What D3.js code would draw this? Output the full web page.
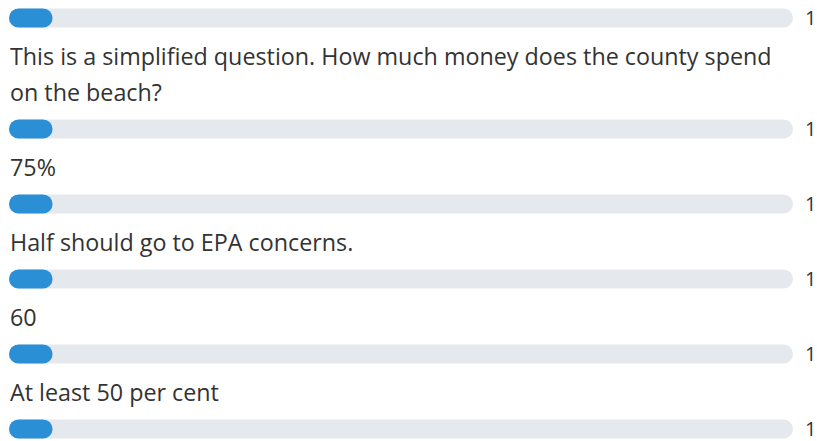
<!DOCTYPE html>
<html>
<head>
<meta charset="utf-8">
<script src="https://cdn.jsdelivr.net/npm/d3@7"></script>
<style>
  body { margin: 0; background: #fff; }
  text { font-family: "Open Sans", "Noto Sans", sans-serif; fill: #333; }
</style>
</head>
<body>
<svg></svg>
<script>
// Poll options (first option's label is above the visible area)
const options = [
    "",
    "This is a simplified question. How much money does the county spend on the beach?",
    "75%",
    "Half should go to EPA concerns.",
    "60",
    "At least 50 per cent"
];
const votes = [1, 1, 1, 1, 1, 1];
const totalVotes = 18;

const width = 817, height = 441;
const fontSize = 23.3,
    countSize = 20,
    lineHeight = 36,
    barH = 19,
    labelGap = 47,   // bar centre -> first label baseline
    rowGap = 28;     // last label baseline -> next bar centre

const svg = d3.select("svg")
    .attr("width", width)
    .attr("height", height);

const x = d3.scaleLinear()
    .domain([0, totalVotes])
    .range([9, 793]);

// word wrap helper
const measure = svg.append("text").attr("font-size", fontSize).attr("visibility", "hidden");
function wrap(str, maxW) {
    if (!str) return [];
    const words = str.split(" ");
    const lines = [];
    let line = "";
    words.forEach(w => {
        const t = line ? line + " " + w : w;
        measure.text(t);
        if (measure.node().getComputedTextLength() > maxW && line) {
            lines.push(line);
            line = w;
        } else line = t;
    });
    lines.push(line);
    return lines;
}

// lay out the rows top to bottom
let y = 18;
const rows = options.map((label, i) => {
    const lines = wrap(label, 785);
    let barY = y;
    if (i > 0) {
        const first = y + labelGap;
        barY = first + (lines.length - 1) * lineHeight + rowGap;
    }
    const row = { label, lines, votes: votes[i], barY, labelY: barY - rowGap - (lines.length - 1) * lineHeight };
    y = barY;
    return row;
});
measure.remove();

const g = svg.selectAll("g.row")
    .data(rows)
    .join("g")
    .attr("class", "row");

g.each(function(d) {
    d3.select(this).selectAll("text.label")
        .data(d.lines)
        .join("text")
        .attr("class", "label")
        .attr("x", 10)
        .attr("y", (l, j) => d.labelY + j * lineHeight)
        .attr("font-size", fontSize)
        .text(l => l);
});

g.append("rect")
    .attr("x", x(0))
    .attr("y", d => d.barY - barH / 2)
    .attr("width", x(totalVotes) - x(0))
    .attr("height", barH)
    .attr("rx", barH / 2)
    .attr("fill", "#e5e8ec");

g.append("rect")
    .attr("x", x(0))
    .attr("y", d => d.barY - barH / 2)
    .attr("width", d => x(d.votes) - x(0))
    .attr("height", barH)
    .attr("rx", barH / 2)
    .attr("fill", "#2b8fd6");

g.append("text")
    .attr("x", 805)
    .attr("y", d => d.barY + 7)
    .attr("font-size", countSize)
    .text(d => d.votes);
</script>
</body>
</html>
